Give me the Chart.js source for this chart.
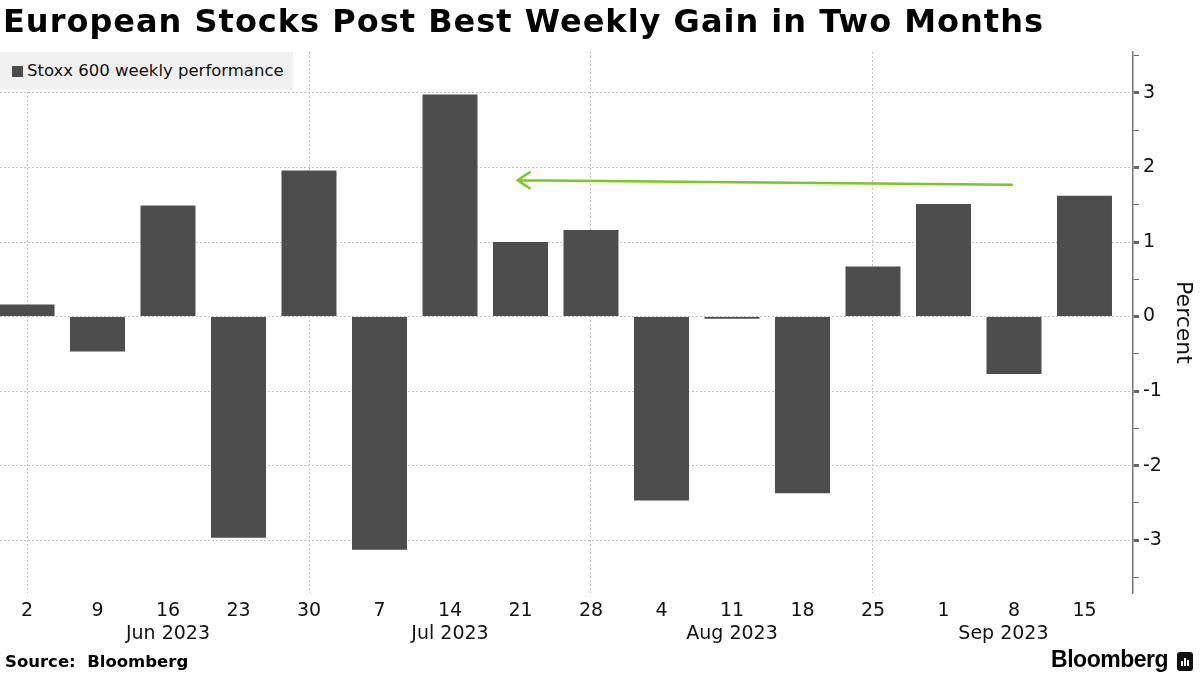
<!DOCTYPE html>
<html>
<head>
<meta charset="utf-8">
<script src="https://cdn.jsdelivr.net/npm/chart.js@4/dist/chart.umd.min.js"></script>
<style>
  body { margin: 0; background: #fff; }
  #wrap { position: relative; width: 1200px; height: 675px; overflow: hidden; font-family: 'DejaVu Sans', sans-serif; }
  #title { position: absolute; left: 3px; top: 2px; font-size: 32px; letter-spacing: 1px; font-weight: bold; color: #000; white-space: nowrap; }
  #legend { position: absolute; left: 0; top: 52px; width: 293px; height: 38px; background: #f0f0f0; font-size: 16.5px; color: #111; }
  #legend .sw { position: absolute; left: 12px; top: 14px; width: 11px; height: 11px; background: #4d4d4d; }
  #legend .tx { position: absolute; left: 27px; top: 9px; white-space: nowrap; }
  #source { position: absolute; left: 5px; top: 652px; font-size: 16.5px; font-weight: bold; color: #000; }
  #logo { position: absolute; right: 32px; top: 646px; font-family: 'Liberation Sans', Arial, sans-serif; font-size: 23px; font-weight: bold; color: #000; letter-spacing: -0.5px; }
  #icon { position: absolute; left: 1177px; top: 652px; width: 16px; height: 19px; background: #111; border-radius: 3px; }
  #icon i { position: absolute; bottom: 5px; width: 2px; background: #fff; }
  canvas { position: absolute; left: 0; top: 0; }
</style>
</head>
<body>
<div id="wrap">
  <canvas id="chart" width="1200" height="675"></canvas>
  <div id="title">European Stocks Post Best Weekly Gain in Two Months</div>
  <div id="legend"><span class="sw"></span><span class="tx">Stoxx 600 weekly performance</span></div>
  <div id="source">Source:&nbsp; Bloomberg</div>
  <div id="logo">Bloomberg</div>
  <div id="icon"><i style="left:4px;height:5px"></i><i style="left:7px;height:8px"></i><i style="left:10px;height:6px"></i></div>
</div>
<script>
// weekly % change of Stoxx 600, weeks ending Friday
const weekDays = ['2','9','16','23','30','7','14','21','28','4','11','18','25','1','8','15'];
const weeklyChange = [0.16,-0.47,1.49,-2.97,1.96,-3.13,2.98,1.00,1.16,-2.47,-0.03,-2.37,0.67,1.51,-0.77,1.62];
const monthNames = ['Jun 2023','Jul 2023','Aug 2023','Sep 2023'];
const monthAt = [2, 6, 10, 13.85];
// arrow annotation, [week index, percent]
const arrowFrom = [13.97, 1.77];
const arrowTo = [6.96, 1.83];

const font = "'DejaVu Sans', sans-serif";

const extras = {
  id: 'extras',
  afterDraw(chart) {
    const ctx = chart.ctx;
    const xs = chart.scales.x, ys = chart.scales.y;
    // month labels under the day ticks
    ctx.save();
    ctx.font = '19px ' + font;
    ctx.fillStyle = '#111';
    ctx.textAlign = 'center';
    ctx.textBaseline = 'middle';
    for (let i = 0; i < monthNames.length; i++) {
      ctx.fillText(monthNames[i], xs.getPixelForValue(monthAt[i]), 634);
    }
    // green arrow
    const x1 = xs.getPixelForValue(arrowFrom[0]), y1 = ys.getPixelForValue(arrowFrom[1]);
    const x2 = xs.getPixelForValue(arrowTo[0]), y2 = ys.getPixelForValue(arrowTo[1]);
    ctx.strokeStyle = '#79c91a';
    ctx.lineWidth = 2.5;
    ctx.lineCap = 'round';
    ctx.beginPath();
    ctx.moveTo(x1, y1);
    ctx.lineTo(x2, y2);
    ctx.moveTo(x2 + 12, y2 - 8);
    ctx.lineTo(x2, y2);
    ctx.lineTo(x2 + 12, y2 + 8);
    ctx.stroke();
    ctx.restore();
  }
};

const ctx = document.getElementById('chart').getContext('2d');
new Chart(ctx, {
  type: 'bar',
  data: {
    datasets: [{
      label: 'Stoxx 600 weekly performance',
      data: weeklyChange.map((v, i) => ({x: i, y: v})),
      backgroundColor: '#4d4d4d',
      borderWidth: 0,
      barPercentage: 0.78,
      categoryPercentage: 1
    }]
  },
  options: {
    responsive: false,
    animation: false,
    devicePixelRatio: 1,
    layout: { padding: { top: 52, left: 0, right: 0, bottom: 0 } },
    plugins: { legend: { display: false }, tooltip: { enabled: false } },
    scales: {
      x: {
        type: 'linear',
        offset: false,
        min: -0.383,
        max: 15.688,
        afterFit: s => { s.height = 82; },
        afterBuildTicks: s => { s.ticks = s.ticks.filter(t => Number.isInteger(t.value) && t.value >= 0 && t.value < weekDays.length); },
        border: { display: false, dash: [2, 2] },
        grid: {
          offset: false,
          drawTicks: false,
          color: c => (c.tick && c.tick.value % 4 === 0) ? '#c4c4c4' : 'rgba(0,0,0,0)',
          lineWidth: 1
        },
        ticks: {
          stepSize: 1,
          autoSkip: false,
          maxRotation: 0,
          includeBounds: false,
          padding: 7,
          color: '#111',
          font: { family: font, size: 19 },
          callback: v => weekDays[v]
        }
      },
      y: {
        position: 'right',
        min: -3.71,
        max: 3.55,
        afterFit: s => { s.width = 67; },
        afterBuildTicks: s => { s.ticks = s.ticks.filter(t => Number.isInteger(Math.round(t.value * 1000) / 500)); },
        border: { display: true, color: '#777', width: 1.5, dash: [2, 2] },
        grid: {
          color: c => (c.tick && Number.isInteger(c.tick.value)) ? '#c4c4c4' : 'rgba(0,0,0,0)',
          tickColor: '#666',
          tickLength: 6,
          tickWidth: c => (c.tick && Number.isInteger(c.tick.value)) ? 3 : 1
        },
        ticks: {
          stepSize: 0.5,
          includeBounds: false,
          padding: 4,
          color: '#111',
          font: { family: font, size: 19 },
          callback: v => Number.isInteger(v) ? String(v) : ''
        },
        title: {
          display: true,
          text: 'Percent',
          color: '#111',
          font: { family: font, size: 22 },
          padding: { top: 4, bottom: 0 }
        }
      }
    }
  },
  plugins: [extras]
});
</script>
</body>
</html>
